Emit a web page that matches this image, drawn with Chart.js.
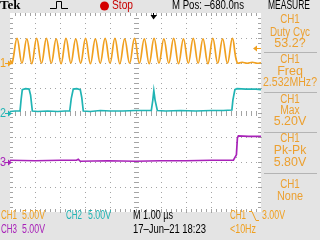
<!DOCTYPE html>
<html>
<head>
<meta charset="utf-8">
<script src="https://cdn.jsdelivr.net/npm/chart.js@4/dist/chart.umd.min.js"></script>
<style>
  html, body { margin: 0; padding: 0; background: #e4e4e4; overflow: hidden; }
  canvas { display: block; }
</style>
</head>
<body>
<canvas id="scope" width="320" height="240"></canvas>
<script>
// time in microseconds, values in volts (5 V/div)
var ch1Time = [0, 0.085, 0.28, 0.475, 0.67, 0.865, 1.06, 1.255, 1.45, 1.645, 1.84, 2.035, 2.23, 2.425,
  2.62, 2.815, 3.01, 3.205, 3.40, 3.595, 3.79, 3.985, 4.18, 4.375, 4.57, 4.765, 4.96, 5.155, 5.35,
  5.545, 5.74, 5.935, 6.13, 6.325, 6.52, 6.715, 6.91, 7.105, 7.30, 7.495, 7.69, 7.885, 8.08, 8.275,
  8.47, 8.665, 8.86, 9.05, 9.25, 9.45, 9.65, 9.85, 10];
var ch1Volt = [0.6, -0.1, 4.9, -0.1, 4.8, -0.2, 4.9, -0.1, 4.9, -0.1, 4.8, -0.2, 4.9, -0.1,
  4.8, -0.1, 4.9, -0.2, 4.8, -0.1, 4.9, -0.1, 4.9, -0.2, 4.8, -0.1, 4.9, -0.1, 4.8,
  -0.2, 4.9, -0.1, 4.8, -0.1, 4.9, -0.2, 4.8, -0.1, 4.9, -0.1, 4.8, -0.2, 4.9, -0.1,
  4.8, -0.1, 4.9, 0.0, 0.1, -0.1, 0.1, -0.1, 0.0];

var ch2Time = [0, 0.2, 0.4, 0.44, 0.49, 0.62, 0.76, 0.82, 0.89, 1.1, 1.5, 1.9, 2.2, 2.38, 2.44, 2.52,
  2.66, 2.8, 2.86, 2.92, 3.2, 3.6, 4.0, 4.5, 5.0, 5.4, 5.63, 5.69, 5.73, 5.78, 5.87, 6.2, 6.8, 7.4,
  8.0, 8.5, 8.84, 8.88, 8.96, 9.04, 9.4, 9.8, 10];
var ch2Volt = [0.2, 0.3, 0.3, 2.5, 4.6, 4.8, 4.7, 3.5, 0.3, 0.2, 0.3, 0.2, 0.3, 0.3, 2.8, 4.7,
  4.8, 4.6, 3.0, 0.3, 0.2, 0.4, 0.3, 0.3, 0.4, 0.4, 0.4, 2.5, 4.4, 2.5, 0.4, 0.3, 0.4, 0.3,
  0.4, 0.4, 0.5, 2.5, 4.6, 4.8, 4.7, 4.7, 4.6];

var ch3Time = [0, 1, 2, 2.65, 2.72, 2.8, 3.9, 5, 6, 7, 8, 8.9, 9.02, 9.06, 9.1, 9.5, 10];
var ch3Volt = [0.4, 0.3, 0.4, 0.4, 0.6, 0.2, 0.3, 0.2, 0.3, 0.3, 0.4, 0.4, 1.5, 4.9, 5.3, 5.2, 5.2];

// channel ground positions in divisions from centre
var chOffset = [2, 0, -2];
var chColor = ['#f0a020', '#20b4b4', '#a822b8'];
var voltsPerDiv = 5;
var trigLevel = 3.0;   // CH1 volts
var trigTime = 5.68;   // M Pos -680 ns right of centre

var measLabels = [['CH1', 'Duty Cyc', '53.2?'], ['CH1', 'Freq', '2.532MHz?'], ['CH1', 'Max', '5.20V'],
  ['CH1', 'Pk-Pk', '5.80V'], ['CH1', 'None']];

function toPoints(ts, vs, ch) {
  return ts.map(function (t, i) { return { x: t, y: chOffset[ch] + vs[i] / voltsPerDiv }; });
}

var FONT = '"Liberation Sans Narrow", "Liberation Sans", "DejaVu Sans", sans-serif';
function txt(ctx, s, x, y, color, w, align) {
  ctx.fillStyle = color;
  ctx.textAlign = align || 'left';
  ctx.textBaseline = 'middle';
  ctx.fillText(s, x, y, w);
}

var scopeScreen = {
  id: 'scopeScreen',
  beforeDraw: function (chart) {
    var ctx = chart.ctx, a = chart.chartArea, x = chart.scales.x, y = chart.scales.y;
    ctx.save();
    ctx.fillStyle = '#e4e4e4';
    ctx.fillRect(0, 0, chart.width, chart.height);
    ctx.fillStyle = '#ffffff';
    ctx.fillRect(a.left, a.top, a.right - a.left, a.bottom - a.top);
    ctx.fillStyle = '#a4a4a4';
    var i, j, px, py;
    // dotted division lines
    for (i = 1; i < 10; i++) {
      px = Math.round(x.getPixelForValue(i));
      for (j = 0; j <= 40; j++) {
        py = Math.round(y.getPixelForValue(-4 + j * 0.2));
        ctx.fillRect(px, py, 1, 1);
      }
    }
    for (i = -3; i <= 3; i++) {
      py = Math.round(y.getPixelForValue(i));
      for (j = 0; j <= 50; j++) {
        px = Math.round(x.getPixelForValue(j * 0.2));
        ctx.fillRect(px, py, 1, 1);
      }
    }
    // ticks on centre lines and edges
    var cx = Math.round(x.getPixelForValue(5)), cy = Math.round(y.getPixelForValue(0));
    for (j = 1; j < 40; j++) {
      py = Math.round(y.getPixelForValue(-4 + j * 0.2));
      ctx.fillRect(cx - 2, py, 5, 1);
      ctx.fillRect(Math.round(a.left), py, 3, 1);
      ctx.fillRect(Math.round(a.right) - 3, py, 3, 1);
    }
    for (j = 1; j < 50; j++) {
      px = Math.round(x.getPixelForValue(j * 0.2));
      ctx.fillRect(px, cy - 2, 1, 5);
      ctx.fillRect(px, Math.round(a.top), 1, 3);
      ctx.fillRect(px, Math.round(a.bottom) - 3, 1, 3);
    }
    ctx.restore();
  },
  afterDraw: function (chart) {
    var ctx = chart.ctx, a = chart.chartArea, x = chart.scales.x, y = chart.scales.y;
    ctx.save();
    // header
    ctx.font = 'bold 13px "Liberation Serif", serif';
    txt(ctx, 'Tek', 0, 6, '#000', 23);
    ctx.strokeStyle = '#000';
    ctx.lineWidth = 1;
    ctx.beginPath();
    ctx.moveTo(50, 8.5); ctx.lineTo(56.5, 8.5); ctx.lineTo(56.5, 1.5); ctx.lineTo(61.5, 1.5);
    ctx.lineTo(61.5, 8.5); ctx.lineTo(68, 8.5);
    ctx.stroke();
    ctx.fillStyle = '#d40000';
    ctx.beginPath(); ctx.arc(104.5, 6, 4.5, 0, Math.PI * 2); ctx.fill();
    ctx.font = '12px ' + FONT;
    txt(ctx, 'Stop', 112, 6, '#c80000', 21);
    txt(ctx, 'M Pos: \u2013680.0ns', 172, 6, '#000', 72);
    txt(ctx, 'MEASURE', 289, 6, '#000', 42, 'center');

    // measurement panel
    var mc = '#eca030';
    var rows = [[20, 33, 44], [60, 72, 83], [100, 111, 122], [139, 151, 163], [185, 197]];
    var seps = [52, 92, 132, 173];
    ctx.fillStyle = '#b4b4b4';
    seps.forEach(function (s) { ctx.fillRect(264, s, 53, 1); });
    ctx.font = '12.5px ' + FONT;
    measLabels.forEach(function (lab, k) {
      lab.forEach(function (s, m) {
        var w = s.length > 6 ? (s.length > 8 ? 54 : 40) : s.length * 6.5;
        txt(ctx, s, 290, rows[k][m], mc, w, 'center');
      });
    });

    // status lines
    ctx.font = '12.5px ' + FONT;
    txt(ctx, 'CH1', 1, 216, chColor[0], 16);
    txt(ctx, '5.00V', 22, 216, chColor[0], 23);
    txt(ctx, 'CH2', 66, 216, chColor[1], 16);
    txt(ctx, '5.00V', 88, 216, chColor[1], 23);
    txt(ctx, 'M 1.00 \u00b5s', 133, 216, '#000', 40);
    txt(ctx, 'CH1', 230, 216, chColor[0], 16);
    ctx.strokeStyle = chColor[0];
    ctx.beginPath(); ctx.moveTo(249, 211.5); ctx.lineTo(252, 211.5); ctx.lineTo(256, 220.5); ctx.lineTo(259, 220.5); ctx.stroke();
    txt(ctx, '3.00V', 262, 216, chColor[0], 23);
    txt(ctx, 'CH3', 1, 230, chColor[2], 16);
    txt(ctx, '5.00V', 22, 230, chColor[2], 23);
    txt(ctx, '17\u2013Jun\u201321 18:23', 133, 230, '#000', 73);
    txt(ctx, '<10Hz', 230, 230, chColor[0], 26);

    // channel ground markers
    ctx.font = '12px ' + FONT;
    chOffset.forEach(function (off, k) {
      var py = Math.round(y.getPixelForValue(off)) + 0.5;
      txt(ctx, String(k + 1), 0, py, chColor[k], 6);
      ctx.strokeStyle = chColor[k];
      ctx.fillStyle = chColor[k];
      ctx.beginPath(); ctx.moveTo(5, py); ctx.lineTo(9, py); ctx.stroke();
      ctx.beginPath(); ctx.moveTo(12, py); ctx.lineTo(8, py - 3); ctx.lineTo(8, py + 3); ctx.fill();
    });
    // trigger level marker
    var ty = Math.round(y.getPixelForValue(chOffset[0] + trigLevel / voltsPerDiv)) + 0.5;
    ctx.fillStyle = chColor[0]; ctx.strokeStyle = chColor[0];
    ctx.beginPath(); ctx.moveTo(a.right - 8, ty); ctx.lineTo(a.right - 4, ty - 3); ctx.lineTo(a.right - 4, ty + 3); ctx.fill();
    ctx.beginPath(); ctx.moveTo(a.right - 5, ty); ctx.lineTo(a.right, ty); ctx.stroke();
    // trigger position marker
    var tx = Math.round(x.getPixelForValue(trigTime)) + 0.5;
    ctx.fillStyle = '#000'; ctx.strokeStyle = '#000';
    ctx.beginPath(); ctx.moveTo(tx, a.top); ctx.lineTo(tx, a.top + 3); ctx.stroke();
    ctx.beginPath(); ctx.moveTo(tx - 3, a.top + 2); ctx.lineTo(tx + 3.5, a.top + 2); ctx.lineTo(tx, a.top + 6.5); ctx.fill();
    ctx.restore();
  }
};

var series = [[ch1Time, ch1Volt], [ch2Time, ch2Volt], [ch3Time, ch3Volt]];

new Chart(document.getElementById('scope'), {
  type: 'line',
  data: {
    datasets: series.map(function (s, k) {
      return {
        label: 'CH' + (k + 1),
        data: toPoints(s[0], s[1], k),
        borderColor: chColor[k],
        borderWidth: 1.7,
        pointRadius: 0,
        tension: k === 0 ? 0.4 : 0
      };
    })
  },
  options: {
    responsive: false,
    animation: false,
    events: [],
    layout: { padding: { left: 10, top: 13, right: 59, bottom: 28 } },
    plugins: { legend: { display: false }, tooltip: { enabled: false } },
    scales: {
      x: { type: 'linear', min: 0, max: 10, display: false },
      y: { type: 'linear', min: -4, max: 4, display: false }
    }
  },
  plugins: [scopeScreen]
});
</script>
</body>
</html>
